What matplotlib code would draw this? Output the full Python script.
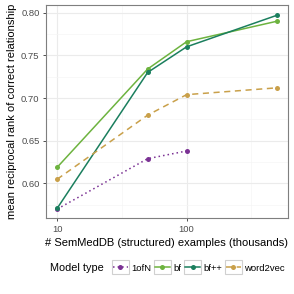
import numpy as np
import matplotlib
matplotlib.use("Agg")
import matplotlib.pyplot as plt
from matplotlib.patches import Rectangle

plt.rcParams['font.family'] = ['Liberation Sans', 'DejaVu Sans']

# examples (thousands)
sizes = [10, 50, 100, 500]
sizes_1ofn = [10, 50, 100]

mrr_1ofn = [0.570, 0.629, 0.638]
mrr_bf = [0.619, 0.734, 0.766, 0.790]
mrr_bfpp = [0.571, 0.730, 0.760, 0.797]
mrr_w2v = [0.605, 0.680, 0.704, 0.712]

labels = ['1ofN', 'bf', 'bf++', 'word2vec']
colors = ['#7b3294', '#6db33f', '#1b7f5e', '#c9a04a']

fig = plt.figure(figsize=(2.94, 2.94), dpi=100)
ax = fig.add_axes([0.156, 0.257, 0.824, 0.726])

series = [(sizes_1ofn, mrr_1ofn, (0, (1, 2))), (sizes, mrr_bf, '-'),
          (sizes, mrr_bfpp, '-'), (sizes, mrr_w2v, (0, (4, 3)))]
handles = []
for (xs, ys, ls), lab, col in zip(series, labels, colors):
    h, = ax.plot(xs, ys, linestyle=ls, color=col, lw=1.1, marker='o', ms=3.6,
                 markeredgewidth=0, label=lab, zorder=3)
    handles.append(h)

ax.set_xscale('log')
ax.set_xlim(10 ** 0.912, 10 ** 2.785)
ax.set_ylim(0.559, 0.809)
ax.set_xticks([10, 100])
ax.set_xticklabels(['10', '100'])
ax.set_xticks([10 ** 1.5, 10 ** 2.5], minor=True)
ax.xaxis.set_minor_formatter(matplotlib.ticker.NullFormatter())
ax.set_yticks([0.60, 0.65, 0.70, 0.75, 0.80])
ax.set_yticklabels(['0.60', '0.65', '0.70', '0.75', '0.80'])
ax.set_yticks([0.575, 0.625, 0.675, 0.725, 0.775], minor=True)

ax.grid(True, which='major', color='#ebebeb', lw=0.8)
ax.grid(True, which='minor', color='#f5f5f5', lw=0.5)
ax.set_axisbelow(True)
ax.tick_params(which='major', labelsize=6.8, length=2.5, width=0.6,
               color='#333333', labelcolor='#4d4d4d', pad=2)
ax.tick_params(which='minor', length=0)
for sp in ax.spines.values():
    sp.set_color('#7f7f7f')
    sp.set_linewidth(0.8)

ax.set_xlabel('# SemMedDB (structured) examples (thousands)', fontsize=8, labelpad=3)
ax.set_ylabel('mean reciprocal rank of correct relationship', fontsize=8, labelpad=3)

fig.text(0.17, 0.088, 'Model type', fontsize=7.8, va='center', ha='left')
leg = fig.legend(handles=handles, labels=labels, loc='center left',
                 bbox_to_anchor=(0.383, 0.088), ncol=4, frameon=False,
                 fontsize=6.8, handlelength=1.6, handletextpad=0.35,
                 columnspacing=0.4, borderpad=0, borderaxespad=0)

# grey boxes around legend keys, like ggplot
fig.canvas.draw()
r = fig.canvas.get_renderer()
inv = fig.transFigure.inverted()
for h in leg.legend_handles:
    bb = h.get_window_extent(r)
    cx = (bb.x0 + bb.x1) / 2
    cy = (bb.y0 + bb.y1) / 2
    w, hh = 17, 14
    (x0, y0) = inv.transform((cx - w / 2, cy - hh / 2))
    (x1, y1) = inv.transform((cx + w / 2, cy + hh / 2))
    fig.add_artist(Rectangle((x0, y0), x1 - x0, y1 - y0, transform=fig.transFigure,
                             facecolor='white', edgecolor='#d0d0d0', lw=0.8, zorder=0))

fig.savefig('out.png', dpi=100)
